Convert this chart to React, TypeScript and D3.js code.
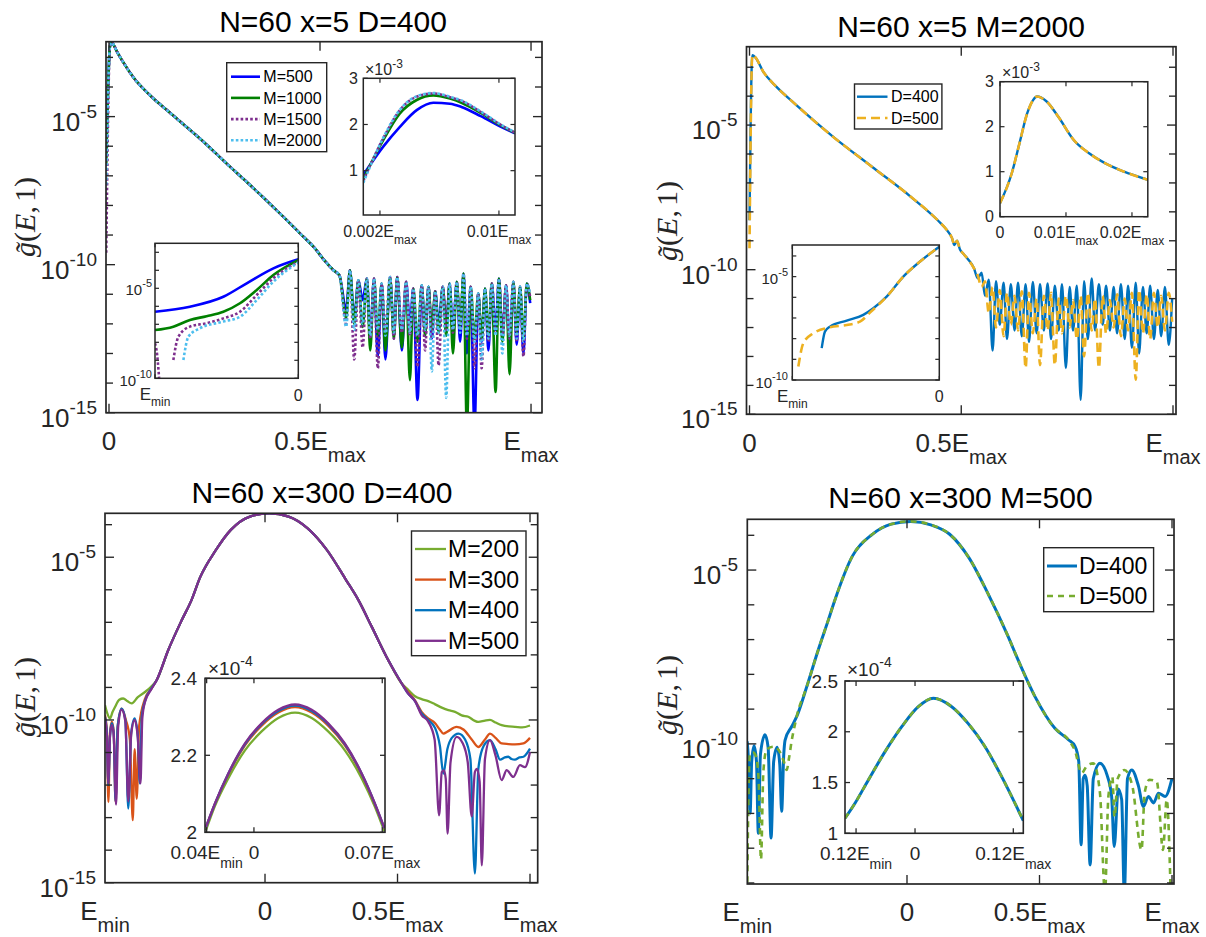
import React from 'react';
import * as d3 from 'd3';

type Pt = [number, number];

// ---- top left: N=60 x=5 D=400 (y stored as log10 g, x in units of Emax) ----
const tlLabels = ['M=500', 'M=1000', 'M=1500', 'M=2000'];
const tlStart = [-6.3, -6.6, -9.6, -7.3];
const tlDecay: Pt[] = [
  [0.0024, -2.62], [0.0064, -2.5], [0.012, -2.6], [0.018, -2.78], [0.034, -3.17],
  [0.058, -3.68], [0.097, -4.28], [0.137, -4.78], [0.216, -5.75], [0.295, -6.8],
  [0.322, -7.15], [0.4, -8.2], [0.453, -8.95], [0.488, -9.45], [0.51, -9.85],
];
const tlTailX = [
  0.532, 0.546, 0.562, 0.571, 0.581, 0.591, 0.601, 0.611, 0.619, 0.628, 0.637, 0.646, 0.655,
  0.666, 0.675, 0.683, 0.694, 0.704, 0.713, 0.721, 0.731, 0.741, 0.749, 0.757, 0.765, 0.773,
  0.781, 0.791, 0.799, 0.807, 0.815, 0.824, 0.832, 0.84, 0.848, 0.857, 0.866, 0.875, 0.883,
  0.891, 0.899, 0.907, 0.916, 0.924, 0.932, 0.941, 0.949, 0.958, 0.966, 0.974, 0.982, 0.99, 0.998,
];
const tlTailHead = [-10.19, -10.36];
const tlPeaks = [
  -10.19, -10.53, -10.47, -10.47, -10.64, -10.42, -10.42, -10.58, -10.81, -10.7, -10.75, -10.9,
  -10.75, -10.64, -10.58, -10.3, -10.75, -10.98, -10.81, -10.64, -10.47, -10.7, -10.58, -10.75, -10.64,
];
const tlDips500 = [
  -11.5, -11.8, -11.2, -12.4, -13.1, -13.2, -12.3, -12.9, -12.0, -14.57, -12.3, -12.5, -12.0,
  -12.2, -12.3, -12.6, -13.0, -15.5, -12.6, -12.9, -12.2, -12.4, -12.8, -12.7, -13.0, -11.3,
];
const tlDips1000 = [
  -11.8, -12.0, -12.1, -12.9, -12.4, -12.9, -12.5, -12.8, -13.9, -12.6, -12.4, -12.2, -12.3,
  -12.4, -13.0, -12.1, -15.5, -12.5, -12.5, -12.4, -14.3, -12.6, -13.7, -12.3, -12.5, -11.2,
];
const tlDips1500 = [
  -12.0, -13.2, -12.8, -12.5, -13.5, -12.2, -12.5, -12.3, -12.4, -13.45, -12.9, -12.5, -13.4,
  -12.2, -12.3, -12.2, -12.5, -13.5, -13.5, -12.6, -12.3, -12.4, -12.5, -12.6, -13.1, -11.1,
];
const tlDips2000 = [
  -12.1, -12.2, -12.0, -12.4, -12.2, -12.4, -12.3, -12.2, -12.3, -12.4, -12.2, -13.6, -12.3,
  -14.5, -12.2, -12.3, -12.4, -12.6, -13.2, -12.5, -12.4, -13.0, -12.4, -12.5, -12.6, -11.0,
];
// upper inset, g in 1e-3
const tlZoomX = [0.00088, 0.00222, 0.00334, 0.00447, 0.00559, 0.00671, 0.00748, 0.00878, 0.01007, 0.01108];
const tlZoom500 = [0.91, 1.52, 1.95, 2.31, 2.47, 2.45, 2.38, 2.18, 1.96, 1.81];
const tlZoom1000 = [0.82, 1.66, 2.24, 2.53, 2.63, 2.56, 2.47, 2.25, 1.99, 1.82];
const tlZoom1500 = [0.78, 1.7, 2.31, 2.6, 2.67, 2.59, 2.51, 2.27, 2.0, 1.82];
const tlZoom2000 = [0.74, 1.71, 2.32, 2.61, 2.68, 2.6, 2.52, 2.28, 2.01, 1.83];
// lower inset, x from Emin (-1) to 0
const tlLow500: Pt[] = [[-1, -6.3], [-0.756, -6.02], [-0.523, -5.47], [-0.36, -4.72], [-0.174, -3.89], [0, -3.39]];
const tlLow1000: Pt[] = [
  [-1, -7.32], [-0.872, -7.13], [-0.756, -6.76], [-0.64, -6.55], [-0.523, -6.3],
  [-0.407, -5.83], [-0.29, -5.09], [-0.174, -4.26], [0, -3.43],
];
const tlLow1500: Pt[] = [
  [-1, -8.06], [-0.985, -8.7], [-0.975, -9.6], [-0.966, -10.6], [-0.92, NaN], [-0.872, -8.98],
  [-0.837, -7.69], [-0.756, -7.13], [-0.639, -6.94], [-0.523, -6.67], [-0.407, -6.3],
  [-0.29, -5.37], [-0.174, -4.44], [0, -3.52],
];
const tlLow2000: Pt[] = [
  [-0.802, -8.98], [-0.767, -7.69], [-0.686, -7.22], [-0.523, -6.85], [-0.407, -6.58],
  [-0.29, -5.65], [-0.174, -4.63], [0, -3.56],
];

// ---- top right: N=60 x=5 M=2000 ----
const trLabels = ['D=400', 'D=500'];
const trStart = [-8.29, -9.26];
const trDecay: Pt[] = [
  [0.0066, -2.58], [0.0139, -2.66], [0.0323, -3.15], [0.0598, -3.62], [0.106, -4.25],
  [0.197, -5.4], [0.289, -6.44], [0.381, -7.48], [0.445, -8.3], [0.466, -8.63], [0.478, -8.9],
  [0.484, -9.15], [0.49, -9.0], [0.497, -9.3], [0.505, -9.45], [0.515, -9.62],
];
const trTailX = [
  0.53, 0.539, 0.548, 0.556, 0.565, 0.574, 0.582, 0.591, 0.6, 0.608, 0.617, 0.626, 0.634, 0.643,
  0.652, 0.66, 0.669, 0.678, 0.686, 0.695, 0.704, 0.712, 0.721, 0.73, 0.738, 0.747, 0.756, 0.764,
  0.773, 0.782, 0.79, 0.799, 0.808, 0.816, 0.825, 0.834, 0.842, 0.851, 0.86, 0.868, 0.877, 0.886,
  0.894, 0.903, 0.912, 0.92, 0.929, 0.938, 0.946, 0.955, 0.964, 0.972, 0.981, 0.99, 0.998,
];
const trTail400 = [
  -9.95, -10.3, -10.1, -10.9, -10.35, -12.8, -10.4, -11.9, -10.45, -12.4, -10.5, -12.1, -10.45,
  -12.3, -10.5, -12.5, -10.42, -12.2, -10.5, -12.1, -10.48, -12.4, -10.55, -12.1, -10.5, -13.4,
  -10.6, -12.1, -10.55, -14.5, -10.4, -12.4, -10.3, -12.1, -10.5, -11.9, -10.55, -12.1, -10.6,
  -12.2, -10.5, -12.4, -10.55, -12.7, -10.45, -12.9, -10.6, -12.2, -10.55, -12.4, -10.7, -12.3,
  -10.6, -12.6, -11.0,
];
const trTail500 = [
  -9.95, -10.2, -10.6, -10.4, -11.5, -10.6, -12.0, -10.7, -12.3, -10.8, -11.9, -10.9, -12.1,
  -10.75, -13.4, -10.8, -12.2, -11.0, -13.3, -10.9, -12.1, -10.8, -13.3, -11.0, -12.2, -10.9,
  -12.0, -11.05, -12.4, -10.9, -13.0, -10.8, -12.1, -11.0, -13.4, -10.9, -12.2, -11.05, -12.0,
  -10.85, -12.3, -11.0, -12.1, -10.8, -13.8, -10.7, -12.2, -10.85, -12.4, -10.8, -12.0, -10.9,
  -12.1, -10.8, -11.8,
];
const trZoomX = [0, 0.00177, 0.00295, 0.00413, 0.00501, 0.0056, 0.00707, 0.00884, 0.0112, 0.0135, 0.0159, 0.0188, 0.0224];
const trZoomY = [0.3, 0.96, 1.63, 2.3, 2.59, 2.67, 2.56, 2.22, 1.7, 1.41, 1.19, 1.0, 0.82];
const trLow400: Pt[] = [
  [-0.8, -8.46], [-0.778, -7.66], [-0.744, -7.42], [-0.63, -7.13], [-0.517, -6.85],
  [-0.449, -6.53], [-0.358, -5.97], [-0.245, -5.0], [-0.131, -4.27], [0, -3.55],
];
const trLow500: Pt[] = [
  [-0.959, -9.35], [-0.925, -8.22], [-0.857, -7.74], [-0.744, -7.45], [-0.63, -7.34],
  [-0.54, -7.18], [-0.472, -6.74], [-0.358, -5.97], [-0.245, -5.0], [-0.131, -4.27], [0, -3.55],
];

// ---- bottom left: N=60 x=300 D=400 ----
const blLabels = ['M=200', 'M=300', 'M=400', 'M=500'];
const blCore: Pt[] = [
  [-0.409, -8.78], [-0.365, -7.85], [-0.314, -6.93], [-0.277, -6.31], [-0.245, -5.62],
  [-0.187, -4.8], [-0.129, -4.16], [-0.057, -3.75], [0.016, -3.65], [0.089, -3.75],
  [0.161, -4.11], [0.234, -4.78], [0.306, -5.7], [0.352, -6.31], [0.403, -7.14],
  [0.465, -8.16], [0.516, -8.88],
];
const blLeft200: Pt[] = [
  [-0.604, -9.54], [-0.595, -9.8], [-0.585, -9.95], [-0.575, -9.75], [-0.566, -9.6], [-0.55, -9.38],
  [-0.535, -9.34], [-0.52, -9.42], [-0.503, -9.49], [-0.48, -9.3], [-0.453, -9.14], [-0.43, -8.98],
];
const blLeft300: Pt[] = [
  [-0.604, -9.85], [-0.597, -10.3], [-0.591, -12.52], [-0.585, -10.4], [-0.578, -10.05],
  [-0.571, -10.35], [-0.564, -12.52], [-0.556, -10.2], [-0.541, -9.65], [-0.525, -10.0],
  [-0.51, -10.6], [-0.499, -13.08], [-0.492, -10.9], [-0.484, -12.42], [-0.475, -10.2],
  [-0.453, -9.35], [-0.43, -9.05],
];
const blLeft400: Pt[] = [
  [-0.604, -9.9], [-0.597, -10.4], [-0.591, -12.0], [-0.585, -10.5], [-0.578, -10.1],
  [-0.571, -10.4], [-0.564, -12.5], [-0.556, -10.2], [-0.541, -9.65], [-0.527, -10.0],
  [-0.516, -12.72], [-0.505, -10.4], [-0.492, -9.95], [-0.48, -10.5], [-0.472, -11.95],
  [-0.465, -9.9], [-0.453, -9.42], [-0.43, -9.05],
];
const blLeft500: Pt[] = [
  [-0.604, -9.95], [-0.597, -10.5], [-0.591, -11.95], [-0.585, -10.5], [-0.578, -10.15],
  [-0.571, -10.45], [-0.562, -12.6], [-0.554, -10.2], [-0.541, -9.68], [-0.527, -10.05],
  [-0.516, -12.5], [-0.505, -10.45], [-0.492, -10.0], [-0.48, -10.55], [-0.47, -11.95],
  [-0.463, -9.95], [-0.453, -9.45], [-0.43, -9.07],
];
const blRight200: Pt[] = [
  [0.541, -9.08], [0.566, -9.27], [0.591, -9.36], [0.616, -9.42], [0.642, -9.52], [0.667, -9.62],
  [0.692, -9.7], [0.717, -9.75], [0.742, -9.86], [0.767, -9.9], [0.79, -10.02], [0.805, -10.06],
  [0.83, -10.02], [0.849, -10.0], [0.87, -10.08], [0.893, -10.16], [0.92, -10.2], [0.943, -10.21],
  [0.97, -10.23], [1.0, -10.17],
];
const blRight300: Pt[] = [
  [0.541, -9.15], [0.566, -9.4], [0.591, -9.75], [0.616, -9.95], [0.642, -10.1], [0.66, -10.3],
  [0.673, -10.42], [0.69, -10.35], [0.723, -10.21], [0.75, -10.3], [0.78, -10.6], [0.805, -10.83],
  [0.83, -10.6], [0.849, -10.42], [0.87, -10.55], [0.893, -10.72], [0.918, -10.74], [0.943, -10.75],
  [0.975, -10.72], [1.0, -10.55],
];
const blRight400: Pt[] = [
  [0.541, -9.2], [0.566, -9.42], [0.591, -9.8], [0.616, -10.0], [0.642, -10.25], [0.66, -10.8],
  [0.673, -11.65], [0.688, -10.9], [0.705, -10.55], [0.73, -10.42], [0.755, -10.6], [0.775, -11.2],
  [0.792, -14.72], [0.805, -11.5], [0.825, -10.8], [0.849, -10.62], [0.87, -10.9], [0.887, -11.22],
  [0.905, -11.15], [0.918, -11.13], [0.93, -11.2], [0.943, -11.22], [0.96, -11.15], [0.975, -11.13],
  [1.0, -10.88],
];
const blRight500: Pt[] = [
  [0.541, -9.2], [0.566, -9.42], [0.591, -9.85], [0.616, -10.05], [0.64, -10.6], [0.657, -12.93],
  [0.667, -11.6], [0.675, -11.55], [0.682, -11.8], [0.689, -13.49], [0.7, -11.3], [0.723, -10.52],
  [0.745, -10.7], [0.765, -11.3], [0.78, -12.96], [0.792, -11.6], [0.8, -11.5], [0.81, -11.9],
  [0.818, -14.47], [0.83, -11.2], [0.849, -10.62], [0.87, -11.1], [0.893, -11.85], [0.912, -11.54],
  [0.937, -11.75], [0.962, -11.39], [0.981, -11.45], [1.0, -10.98],
];
// inset, g in 1e-4
const blZoomX = [-0.0262, -0.0213, -0.014, -0.0049, 0.0042, 0.0133, 0.0224, 0.0315, 0.0405, 0.0496, 0.0588, 0.066, 0.0711];
const blZoom200 = [2.005, 2.068, 2.14, 2.213, 2.262, 2.297, 2.311, 2.297, 2.262, 2.213, 2.14, 2.066, 2.003];
const blZoom300 = [2.012, 2.073, 2.15, 2.226, 2.277, 2.311, 2.325, 2.311, 2.277, 2.226, 2.15, 2.072, 2.01];
const blZoom400 = [2.013, 2.074, 2.152, 2.229, 2.281, 2.315, 2.329, 2.315, 2.281, 2.229, 2.152, 2.074, 2.011];
const blZoom500 = [2.014, 2.075, 2.153, 2.231, 2.283, 2.318, 2.332, 2.318, 2.283, 2.231, 2.153, 2.075, 2.012];

// ---- bottom right: N=60 x=300 M=500 ----
const brLabels = ['D=400', 'D=500'];
const brCore: Pt[] = [
  [-0.416, -9.21], [-0.378, -8.35], [-0.335, -7.3], [-0.297, -6.44], [-0.272, -5.86],
  [-0.206, -4.6], [-0.132, -3.98], [-0.06, -3.68], [0.014, -3.6], [0.09, -3.7], [0.161, -3.97],
  [0.234, -4.65], [0.307, -5.7], [0.381, -6.9], [0.42, -7.6], [0.483, -8.64], [0.558, -9.55],
  [0.609, -9.88],
];
const brLeft400: Pt[] = [
  [-0.603, -9.93], [-0.598, -10.5], [-0.592, -11.99], [-0.586, -10.5], [-0.577, -10.05],
  [-0.568, -10.5], [-0.561, -12.57], [-0.553, -10.3], [-0.536, -9.74], [-0.524, -10.1],
  [-0.513, -12.71], [-0.503, -10.5], [-0.49, -10.1], [-0.48, -10.6], [-0.473, -11.94],
  [-0.465, -10.3], [-0.46, -9.89], [-0.435, -9.5],
];
const brLeft500: Pt[] = [
  [-0.603, -14.3], [-0.597, -11.0], [-0.592, -10.27], [-0.58, -10.25], [-0.57, -10.36],
  [-0.56, -11.0], [-0.551, -13.33], [-0.542, -10.8], [-0.53, -10.17], [-0.504, -10.08],
  [-0.485, -10.17], [-0.465, -10.5], [-0.454, -10.75], [-0.445, -10.4], [-0.435, -9.9],
  [-0.423, -9.45],
];
const brRight400: Pt[] = [
  [0.634, -10.07], [0.648, -10.5], [0.657, -12.9], [0.665, -11.0], [0.672, -10.9], [0.68, -11.2],
  [0.691, -13.48], [0.703, -11.0], [0.728, -10.56], [0.755, -10.9], [0.772, -11.5], [0.782, -12.95],
  [0.797, -11.3], [0.81, -11.6], [0.82, -14.3], [0.832, -11.0], [0.848, -10.75], [0.873, -11.2],
  [0.892, -11.8], [0.911, -11.51], [0.93, -11.7], [0.949, -11.42], [0.974, -11.51], [1.0, -10.99],
];
const brRight500: Pt[] = [
  [0.634, -10.2], [0.659, -10.84], [0.68, -10.62], [0.703, -10.56], [0.728, -11.4], [0.747, -14.3],
  [0.76, -11.5], [0.775, -10.95], [0.783, -12.1], [0.795, -11.0], [0.82, -10.75], [0.85, -11.2],
  [0.885, -13.05], [0.897, -11.4], [0.915, -11.03], [0.943, -11.1], [0.966, -13.05], [0.98, -11.6],
  [0.995, -14.3],
];
// inset, g in 1e-4
const brZoom: Pt[] = [
  [-0.0855, 1.148], [-0.0733, 1.296], [-0.057, 1.525], [-0.0366, 1.804], [-0.0162, 2.05],
  [0.004, 2.247], [0.0224, 2.33], [0.0448, 2.247], [0.065, 2.08], [0.0855, 1.853],
  [0.1058, 1.558], [0.1322, 1.124],
];

const AX = '#262626';
const FONT = 'Arial, "Liberation Sans", Helvetica, sans-serif';
const SERIF = '"Liberation Serif", "Times New Roman", serif';

type Box = { x0: number; y0: number; x1: number; y1: number };
type Style = { color: string; width: number; dash?: string };
type Series = Style & { pts: Pt[] };

const lg = (pts: Pt[]): Pt[] => pts.map(([x, e]) => [x, Math.pow(10, e)] as Pt);
const zip = (xs: number[], ys: number[]): Pt[] => xs.map((x, i) => [x, ys[i]] as Pt);
const decades = (lo: number, hi: number) =>
  d3.range(Math.ceil(lo), Math.floor(hi) + 1).filter(e => e % 5 !== 0).map(e => Math.pow(10, e));

// peaks and dips alternate along the noisy tail
function tail(xs: number[], head: number[], peaks: number[], dips: number[]): Pt[] {
  return xs.map((x, i) => {
    if (i < head.length) return [x, head[i]] as Pt;
    const j = i - head.length;
    return [x, j % 2 === 0 ? dips[j / 2] : peaks[(j - 1) / 2]] as Pt;
  });
}

function Frame({ id, box, x, y, xTicks, yTicks, yMinor = [], series, tick, minor, sw = 1.7 }: any) {
  const line = d3.line<Pt>()
    .defined(d => Number.isFinite(d[1]))
    .x(d => x(d[0]))
    .y(d => y(d[1]))
    .curve(d3.curveMonotoneX);
  const w = box.x1 - box.x0;
  const h = box.y1 - box.y0;
  const mn = minor ?? tick;
  return (
    <g>
      <defs>
        <clipPath id={id}><rect x={box.x0} y={box.y0} width={w} height={h} /></clipPath>
      </defs>
      <rect x={box.x0} y={box.y0} width={w} height={h} fill="#fff" />
      <g clipPath={`url(#${id})`}>
        {series.map((s: Series, i: number) => (
          <path key={i} d={line(s.pts) ?? ''} fill="none" stroke={s.color} strokeWidth={s.width}
            strokeDasharray={s.dash} strokeLinejoin="round" />
        ))}
      </g>
      <g stroke={AX} strokeWidth={sw * 0.8}>
        {xTicks.map((t: number, i: number) => (
          <g key={'x' + i}>
            <line x1={x(t)} x2={x(t)} y1={box.y1} y2={box.y1 - tick} />
            <line x1={x(t)} x2={x(t)} y1={box.y0} y2={box.y0 + tick} />
          </g>
        ))}
        {yTicks.map((t: number, i: number) => (
          <g key={'y' + i}>
            <line x1={box.x0} x2={box.x0 + tick} y1={y(t)} y2={y(t)} />
            <line x1={box.x1} x2={box.x1 - tick} y1={y(t)} y2={y(t)} />
          </g>
        ))}
        {yMinor.map((t: number, i: number) => (
          <g key={'m' + i}>
            <line x1={box.x0} x2={box.x0 + mn} y1={y(t)} y2={y(t)} />
            <line x1={box.x1} x2={box.x1 - mn} y1={y(t)} y2={y(t)} />
          </g>
        ))}
      </g>
      <rect x={box.x0} y={box.y0} width={w} height={h} fill="none" stroke={AX} strokeWidth={sw} />
    </g>
  );
}

function Legend({ box, labels, styles, size, sx0, sx1, tx, first, rowH }: any) {
  return (
    <g>
      <rect x={box.x0} y={box.y0} width={box.x1 - box.x0} height={box.y1 - box.y0}
        fill="#fff" stroke={AX} strokeWidth={1.4} />
      {labels.map((lab: string, i: number) => {
        const cy = box.y0 + first + i * rowH;
        const s = styles[i];
        return (
          <g key={i}>
            <line x1={sx0} x2={sx1} y1={cy} y2={cy} stroke={s.color} strokeWidth={s.width} strokeDasharray={s.dash} />
            <text x={tx} y={cy} dy="0.36em" fontSize={size} fontFamily={FONT} fill="#000">{lab}</text>
          </g>
        );
      })}
    </g>
  );
}

function T({ x, y, size, anchor = 'middle', fill = AX, children }: any) {
  return <text x={x} y={y} fontSize={size} textAnchor={anchor} fontFamily={FONT} fill={fill}>{children}</text>;
}

function Pow({ x, y, e, size, sup, rise, anchor = 'end', pre = '10' }: any) {
  return (
    <text x={x} y={y} fontSize={size} textAnchor={anchor} fontFamily={FONT} fill={AX}>
      {pre}<tspan dy={-rise} fontSize={sup}>{e}</tspan>
    </text>
  );
}

function Sub({ x, y, main, sub, size, subSize, drop, anchor = 'middle' }: any) {
  return (
    <text x={x} y={y} fontSize={size} textAnchor={anchor} fontFamily={FONT} fill={AX}>
      {main}<tspan dy={drop} fontSize={subSize}>{sub}</tspan>
    </text>
  );
}

function YLabel({ cx, cy }: any) {
  return (
    <text transform={`translate(${cx},${cy}) rotate(-90)`} textAnchor="middle" dy="0.3em"
      fontFamily={SERIF} fontSize={30} fill={AX}>
      <tspan fontStyle="italic">g&#771;</tspan>(<tspan fontStyle="italic">E</tspan>,<tspan dx={4}>1)</tspan>
    </text>
  );
}

export default function App() {
  // ---------- top left ----------
  const tlBox: Box = { x0: 106, y0: 41.7, x1: 542, y1: 412.7 };
  const tlX = d3.scaleLinear().domain([-0.0071, 1.026]).range([tlBox.x0, tlBox.x1]);
  const tlY = d3.scaleLog().domain([1e-15, Math.pow(10, -2.47)]).range([tlBox.y1, tlBox.y0]);
  const tlStyles: Style[] = [
    { color: '#0000ff', width: 2.6 },
    { color: '#008000', width: 2.6 },
    { color: '#7e2f8e', width: 2.6, dash: '2.6 2.2' },
    { color: '#4dbeee', width: 2.6, dash: '2.6 2.2' },
  ];
  const tlDips = [tlDips500, tlDips1000, tlDips1500, tlDips2000];
  const tlSeries = tlDips.map((d, k) => ({
    ...tlStyles[k],
    pts: lg([[-0.0065, tlStart[k]] as Pt, ...tlDecay, ...tail(tlTailX, tlTailHead, tlPeaks, d)]),
  }));
  const tuBox: Box = { x0: 363.3, y0: 78.3, x1: 515, y1: 215 };
  const tuX = d3.scaleLinear().domain([0.00088, 0.01108]).range([tuBox.x0, tuBox.x1]);
  const tuY = d3.scaleLinear().domain([0.04, 3]).range([tuBox.y1, tuBox.y0]);
  const tuSeries = [tlZoom500, tlZoom1000, tlZoom1500, tlZoom2000].map((ys, k) => ({ ...tlStyles[k], pts: zip(tlZoomX, ys) }));
  const tdBox: Box = { x0: 155, y0: 243.3, x1: 298.3, y1: 378.3 };
  const tdX = d3.scaleLinear().domain([-1, 0]).range([tdBox.x0, tdBox.x1]);
  const tdY = d3.scaleLog().domain([1e-10, Math.pow(10, -2.5)]).range([tdBox.y1, tdBox.y0]);
  const tdSeries = [tlLow500, tlLow1000, tlLow1500, tlLow2000].map((p, k) => ({ ...tlStyles[k], pts: lg(p) }));

  // ---------- top right ----------
  const trBox: Box = { x0: 746.5, y0: 46.7, x1: 1176, y1: 414.3 };
  const trX = d3.scaleLinear().domain([-0.0071, 1.0071]).range([trBox.x0, trBox.x1]);
  const trY = d3.scaleLog().domain([1e-15, Math.pow(10, -2.29)]).range([trBox.y1, trBox.y0]);
  const trStyles: Style[] = [
    { color: '#0072bd', width: 2.4 },
    { color: '#edb120', width: 2.6, dash: '9 5' },
  ];
  const trTails = [trTail400, trTail500];
  const trSeries = trTails.map((t, k) => ({
    ...trStyles[k],
    pts: lg([[0, trStart[k]] as Pt, ...trDecay, ...zip(trTailX, t)]),
  }));
  const ruBox: Box = { x0: 1000, y0: 81.7, x1: 1147.8, y1: 216.7 };
  const ruX = d3.scaleLinear().domain([0, 0.0224]).range([ruBox.x0, ruBox.x1]);
  const ruY = d3.scaleLinear().domain([0, 3]).range([ruBox.y1, ruBox.y0]);
  const ruSeries = trStyles.map(s => ({ ...s, pts: zip(trZoomX, trZoomY) }));
  const rdBox: Box = { x0: 792.3, y0: 245, x1: 939.3, y1: 380 };
  const rdX = d3.scaleLinear().domain([-1, 0]).range([rdBox.x0, rdBox.x1]);
  const rdY = d3.scaleLog().domain([1e-10, Math.pow(10, -3.47)]).range([rdBox.y1, rdBox.y0]);
  const rdSeries = [trLow400, trLow500].map((p, k) => ({ ...trStyles[k], pts: lg(p) }));

  // ---------- bottom left ----------
  const blBox: Box = { x0: 105, y0: 513.3, x1: 537.7, y1: 882.7 };
  const blX = d3.scaleLinear().domain([-0.6038, 1.029]).range([blBox.x0, blBox.x1]);
  const blY = d3.scaleLog().domain([1e-15, Math.pow(10, -3.65)]).range([blBox.y1, blBox.y0]);
  const blStyles: Style[] = [
    { color: '#77ac30', width: 2.3 },
    { color: '#d95319', width: 2.3 },
    { color: '#0072bd', width: 2.3 },
    { color: '#7e2f8e', width: 2.3 },
  ];
  const blLefts = [blLeft200, blLeft300, blLeft400, blLeft500];
  const blRights = [blRight200, blRight300, blRight400, blRight500];
  const blSeries = blStyles.map((s, k) => ({ ...s, pts: lg([...blLefts[k], ...blCore, ...blRights[k]]) }));
  const biBox: Box = { x0: 205, y0: 678.3, x1: 385, y1: 832.3 };
  const biX = d3.scaleLinear().domain([-0.0267, 0.0715]).range([biBox.x0, biBox.x1]);
  const biY = d3.scaleLinear().domain([2.0, 2.4]).range([biBox.y1, biBox.y0]);
  const biSeries = [blZoom200, blZoom300, blZoom400, blZoom500].map((ys, k) => ({ ...blStyles[k], pts: zip(blZoomX, ys) }));

  // ---------- bottom right ----------
  const brBox: Box = { x0: 747.3, y0: 519.3, x1: 1174, y1: 884 };
  const brX = d3.scaleLinear().domain([-0.6026, 1.0075]).range([brBox.x0, brBox.x1]);
  const brY = d3.scaleLog().domain([Math.pow(10, -14.03), Math.pow(10, -3.54)]).range([brBox.y1, brBox.y0]);
  const brStyles: Style[] = [
    { color: '#0072bd', width: 3 },
    { color: '#77ac30', width: 2.6, dash: '6 5' },
  ];
  const brLefts = [brLeft400, brLeft500];
  const brRights = [brRight400, brRight500];
  const brSeries = brStyles.map((s, k) => ({ ...s, pts: lg([...brLefts[k], ...brCore, ...brRights[k]]) }));
  const riBox: Box = { x0: 845, y0: 681, x1: 1023.3, y1: 833.3 };
  const riX = d3.scaleLinear().domain([-0.0855, 0.1322]).range([riBox.x0, riBox.x1]);
  const riY = d3.scaleLinear().domain([1, 2.5]).range([riBox.y1, riBox.y0]);
  const riSeries = brStyles.map(s => ({ ...s, pts: brZoom }));

  const mainTicks = [1e-5, 1e-10, 1e-15];

  return (
    <svg width={1206} height={937} viewBox="0 0 1206 937"
      style={{ position: 'absolute', left: 0, top: 0, background: '#fff' }}>
      <rect width={1206} height={937} fill="#fff" />

      {/* ================= top left ================= */}
      <T x={333} y={31.7} size={30} fill="#000">N=60 x=5 D=400</T>
      <Frame id="tl" box={tlBox} x={tlX} y={tlY} xTicks={[0, 0.5, 1]} yTicks={mainTicks}
        yMinor={decades(-14, -2.47)} series={tlSeries} tick={9} minor={7} />
      {[-5, -10, -15].map(e => (
        <Pow key={e} x={97} y={tlY(Math.pow(10, e)) + 14} e={String(e)} size={26} sup={19} rise={13} />
      ))}
      <T x={tlX(0)} y={450} size={26}>0</T>
      <Sub x={tlX(0.5)} y={450} main="0.5E" sub="max" size={26} subSize={20} drop={12} />
      <Sub x={tlX(1)} y={450} main="E" sub="max" size={26} subSize={20} drop={12} />
      <YLabel cx={26} cy={217} />
      <Legend box={{ x0: 226.7, y0: 62.7, x1: 326.7, y1: 151.7 }} labels={tlLabels} styles={tlStyles}
        size={16} sx0={231} sx1={260} tx={263.3} first={14} rowH={21.2} />
      <Frame id="tu" box={tuBox} x={tuX} y={tuY} xTicks={[0.002, 0.01]} yTicks={[1, 2, 3]}
        series={tuSeries} tick={4.5} sw={1.5} />
      {[1, 2, 3].map(v => <T key={v} x={358} y={tuY(v) + 5.5} size={16} anchor="end">{v}</T>)}
      <Sub x={tuX(0.002)} y={237} main="0.002E" sub="max" size={16} subSize={12} drop={7} />
      <Sub x={tuX(0.01)} y={237} main="0.01E" sub="max" size={16} subSize={12} drop={7} />
      <Pow x={365} y={75} pre="×10" e="-3" size={16} sup={12} rise={7} anchor="start" />
      <Frame id="td" box={tdBox} x={tdX} y={tdY} xTicks={[-1, 0]} yTicks={[1e-5, 1e-10]}
        yMinor={decades(-9, -2.5)} series={tdSeries} tick={4} sw={1.5} />
      <Pow x={152} y={tdY(1e-5) + 7} e="-5" size={15} sup={11} rise={8} />
      <Pow x={152} y={tdY(1e-10) + 8} e="-10" size={15} sup={11} rise={8} />
      <Sub x={tdX(-1)} y={400} main="E" sub="min" size={17} subSize={12} drop={6} />
      <T x={tdX(0)} y={401} size={16}>0</T>

      {/* ================= top right ================= */}
      <T x={961} y={36.7} size={30} fill="#000">N=60 x=5 M=2000</T>
      <Frame id="tr" box={trBox} x={trX} y={trY} xTicks={[0, 0.5, 1]} yTicks={mainTicks}
        yMinor={decades(-14, -2.29)} series={trSeries} tick={9} minor={7} />
      {[-5, -10, -15].map(e => (
        <Pow key={e} x={737.5} y={trY(Math.pow(10, e)) + 14} e={String(e)} size={26} sup={19} rise={13} />
      ))}
      <T x={trX(0)} y={452} size={26}>0</T>
      <Sub x={trX(0.5)} y={452} main="0.5E" sub="max" size={26} subSize={20} drop={12} />
      <Sub x={trX(1)} y={452} main="E" sub="max" size={26} subSize={20} drop={12} />
      <YLabel cx={668} cy={221} />
      <Legend box={{ x0: 854.5, y0: 84, x1: 941.9, y1: 129 }} labels={trLabels} styles={trStyles}
        size={16} sx0={857} sx1={887.5} tx={891} first={12.7} rowH={21.3} />
      <Frame id="ru" box={ruBox} x={ruX} y={ruY} xTicks={[0, 0.01, 0.02]} yTicks={[0, 1, 2, 3]}
        series={ruSeries} tick={4.5} sw={1.5} />
      {[0, 1, 2, 3].map(v => <T key={v} x={994} y={ruY(v) + 5.5} size={16} anchor="end">{v}</T>)}
      <T x={ruX(0)} y={238} size={16}>0</T>
      <Sub x={ruX(0.01)} y={238} main="0.01E" sub="max" size={16} subSize={12} drop={7} />
      <Sub x={ruX(0.02)} y={238} main="0.02E" sub="max" size={16} subSize={12} drop={7} />
      <Pow x={1002} y={78} pre="×10" e="-3" size={16} sup={12} rise={7} anchor="start" />
      <Frame id="rd" box={rdBox} x={rdX} y={rdY} xTicks={[-1, 0]} yTicks={[1e-5, 1e-10]}
        yMinor={decades(-9, -3.47)} series={rdSeries} tick={4} sw={1.5} />
      <Pow x={788} y={rdY(1e-5) + 7} e="-5" size={15} sup={11} rise={8} />
      <Pow x={788} y={rdY(1e-10) + 8} e="-10" size={15} sup={11} rise={8} />
      <Sub x={rdX(-1)} y={402} main="E" sub="min" size={17} subSize={12} drop={6} />
      <T x={rdX(0)} y={402} size={16}>0</T>

      {/* ================= bottom left ================= */}
      <T x={322} y={503} size={30} fill="#000">N=60 x=300 D=400</T>
      <Frame id="bl" box={blBox} x={blX} y={blY} xTicks={[0, 0.5, 1]} yTicks={mainTicks}
        yMinor={decades(-14, -3.65)} series={blSeries} tick={9} minor={7} />
      {[-5, -10, -15].map(e => (
        <Pow key={e} x={96} y={blY(Math.pow(10, e)) + 14} e={String(e)} size={26} sup={19} rise={13} />
      ))}
      <Sub x={blBox.x0} y={919.7} main="E" sub="min" size={26} subSize={20} drop={12} />
      <T x={blX(0)} y={919.7} size={26}>0</T>
      <Sub x={blX(0.5)} y={919.7} main="0.5E" sub="max" size={26} subSize={20} drop={12} />
      <Sub x={blX(1)} y={919.7} main="E" sub="max" size={26} subSize={20} drop={12} />
      <YLabel cx={26} cy={697} />
      <Legend box={{ x0: 411.5, y0: 531, x1: 526, y1: 655.7 }} labels={blLabels} styles={blStyles}
        size={23} sx0={415} sx1={446} tx={448} first={18} rowH={30.6} />
      <Frame id="bi" box={biBox} x={biX} y={biY} xTicks={[-0.0258, 0, 0.07]} yTicks={[2, 2.2, 2.4]}
        series={biSeries} tick={5} sw={1.6} />
      {[2, 2.2, 2.4].map(v => <T key={v} x={197} y={biY(v) + 6.5} size={19} anchor="end">{v === 2 ? '2' : v.toFixed(1)}</T>)}
      <Sub x={biX(-0.0258)} y={859} main="0.04E" sub="min" size={19} subSize={14} drop={9} />
      <T x={biX(0)} y={859} size={19}>0</T>
      <Sub x={biX(0.07)} y={859} main="0.07E" sub="max" size={19} subSize={14} drop={9} />
      <Pow x={208} y={675} pre="×10" e="-4" size={19} sup={14} rise={9} anchor="start" />

      {/* ================= bottom right ================= */}
      <T x={960.5} y={508} size={30} fill="#000">N=60 x=300 M=500</T>
      <Frame id="br" box={brBox} x={brX} y={brY} xTicks={[0, 0.5, 1]} yTicks={[1e-5, 1e-10]}
        yMinor={decades(-14.03, -3.54)} series={brSeries} tick={9} minor={7} />
      {[-5, -10].map(e => (
        <Pow key={e} x={738} y={brY(Math.pow(10, e)) + 14} e={String(e)} size={26} sup={19} rise={13} />
      ))}
      <Sub x={brBox.x0} y={921} main="E" sub="min" size={26} subSize={20} drop={12} />
      <T x={brX(0)} y={921} size={26}>0</T>
      <Sub x={brX(0.5)} y={921} main="0.5E" sub="max" size={26} subSize={20} drop={12} />
      <Sub x={brX(1)} y={921} main="E" sub="max" size={26} subSize={20} drop={12} />
      <YLabel cx={668} cy={695} />
      <Legend box={{ x0: 1043.7, y0: 547.7, x1: 1153.6, y1: 611.7 }} labels={brLabels} styles={brStyles}
        size={23} sx0={1047} sx1={1077} tx={1079} first={18.3} rowH={30} />
      <Frame id="ri" box={riBox} x={riX} y={riY} xTicks={[-0.072, 0, 0.12]} yTicks={[1, 1.5, 2, 2.5]}
        series={riSeries} tick={5} sw={1.6} />
      {[1, 1.5, 2, 2.5].map(v => <T key={v} x={838} y={riY(v) + 6.5} size={19} anchor="end">{String(v)}</T>)}
      <Sub x={riX(-0.072)} y={860} main="0.12E" sub="min" size={19} subSize={14} drop={9} />
      <T x={riX(0)} y={860} size={19}>0</T>
      <Sub x={riX(0.12)} y={860} main="0.12E" sub="max" size={19} subSize={14} drop={9} />
      <Pow x={847} y={676} pre="×10" e="-4" size={19} sup={14} rise={9} anchor="start" />
    </svg>
  );
}
